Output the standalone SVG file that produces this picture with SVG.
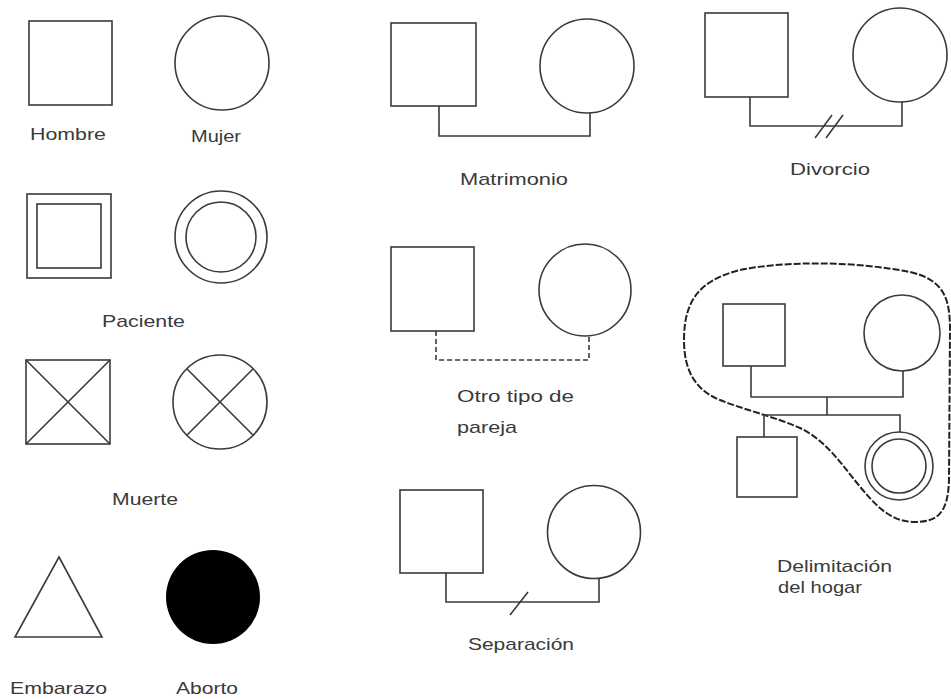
<svg xmlns="http://www.w3.org/2000/svg" width="951" height="699" viewBox="0 0 951 699">
<style>
.s{fill:none;stroke:#3a3a3a;stroke-width:1.6}
.f{fill:#000;stroke:none}
.c{fill:none;stroke:#3a3a3a;stroke-width:1.6}
.d{fill:none;stroke:#3a3a3a;stroke-width:1.6;stroke-dasharray:5 3}
.b{fill:none;stroke:#222;stroke-width:2;stroke-dasharray:7 2}
.t{font-family:"Liberation Sans",Arial,sans-serif;font-size:17px;fill:#3a3a3a}
</style>
<rect width="951" height="699" fill="#fff"/>
<g id="hombre"><rect class="s" x="29" y="21" width="83" height="84"/><text class="t" x="30" y="140" textLength="76" lengthAdjust="spacingAndGlyphs">Hombre</text></g>
<g id="mujer"><circle class="s" cx="222" cy="63" r="47"/><text class="t" x="191" y="142" textLength="50" lengthAdjust="spacingAndGlyphs">Mujer</text></g>
<g id="paciente-hombre"><rect class="s" x="27" y="194" width="84" height="84"/><rect class="s" x="37" y="204" width="64" height="64"/></g>
<g id="paciente-mujer"><circle class="s" cx="221" cy="237" r="46"/><circle class="s" cx="221" cy="237" r="35"/></g>
<g id="paciente-label"><text class="t" x="102" y="327" textLength="83" lengthAdjust="spacingAndGlyphs">Paciente</text></g>
<g id="muerte-hombre"><rect class="s" x="26" y="360" width="84" height="84"/><path class="s" d="M26 360L110 444M110 360L26 444"/></g>
<g id="muerte-mujer"><circle class="s" cx="220" cy="402" r="47"/><path class="s" d="M186.8 368.8L253.2 435.2M253.2 368.8L186.8 435.2"/></g>
<g id="muerte-label"><text class="t" x="112" y="505" textLength="66" lengthAdjust="spacingAndGlyphs">Muerte</text></g>
<g id="embarazo"><path class="s" d="M59 557L102 637L15 637Z"/><text class="t" x="10" y="694" textLength="97" lengthAdjust="spacingAndGlyphs">Embarazo</text></g>
<g id="aborto"><circle class="f" cx="213" cy="597" r="47"/><text class="t" x="176" y="694" textLength="62" lengthAdjust="spacingAndGlyphs">Aborto</text></g>
<g id="matrimonio"><rect class="s" x="391" y="23" width="85" height="83"/><circle class="s" cx="587" cy="66" r="47"/><text class="t" x="460" y="185" textLength="108" lengthAdjust="spacingAndGlyphs">Matrimonio</text></g>
<g id="divorcio"><rect class="s" x="705" y="13" width="83" height="84"/><circle class="s" cx="900" cy="55" r="47"/><text class="t" x="790" y="175" textLength="80" lengthAdjust="spacingAndGlyphs">Divorcio</text></g>
<g id="otro-tipo"><rect class="s" x="391" y="247" width="83" height="84"/><circle class="s" cx="585" cy="290" r="46"/><text class="t" x="457" y="402" textLength="117" lengthAdjust="spacingAndGlyphs">Otro tipo de</text><text class="t" x="457" y="433" textLength="60" lengthAdjust="spacingAndGlyphs">pareja</text></g>
<g id="separacion"><rect class="s" x="400" y="490" width="83" height="83"/><circle class="s" cx="594" cy="532" r="46.5"/><text class="t" x="468" y="650" textLength="106" lengthAdjust="spacingAndGlyphs">Separación</text></g>
<g id="hogar"><path class="b" d="M684 340C684 300 700 280 740 270C790 260 860 262 910 272C945 280 950 300 950 330L949 480C948 510 940 522 915 522C890 522 875 505 857 483C840 462 825 440 800 428C775 417 745 410 720 400C695 390 684 370 684 340Z"/>
<rect class="s" x="723" y="304" width="62" height="62"/><circle class="s" cx="902" cy="333" r="38"/>
<rect class="s" x="737" y="437" width="60" height="60"/><circle class="s" cx="899" cy="466" r="34"/><circle class="s" cx="899" cy="466" r="27"/>
<text class="t" x="777" y="572" textLength="115" lengthAdjust="spacingAndGlyphs">Delimitación</text><text class="t" x="778" y="593" textLength="84" lengthAdjust="spacingAndGlyphs">del hogar</text></g>
<g id="connectors">
<path class="c" d="M439 106V136H590V113"/>
<path class="c" d="M750 97V126H902V102"/>
<path class="c" d="M815 138L832 115M826 138L843 115"/>
<path class="d" d="M436 331V360H589V336"/>
<path class="c" d="M446 573V602H599V578"/>
<path class="c" d="M510 615L528 592"/>
<path class="c" d="M751 366V397H903V371M827 397V415M764 437V415H900V432"/>
</g>
</svg>
